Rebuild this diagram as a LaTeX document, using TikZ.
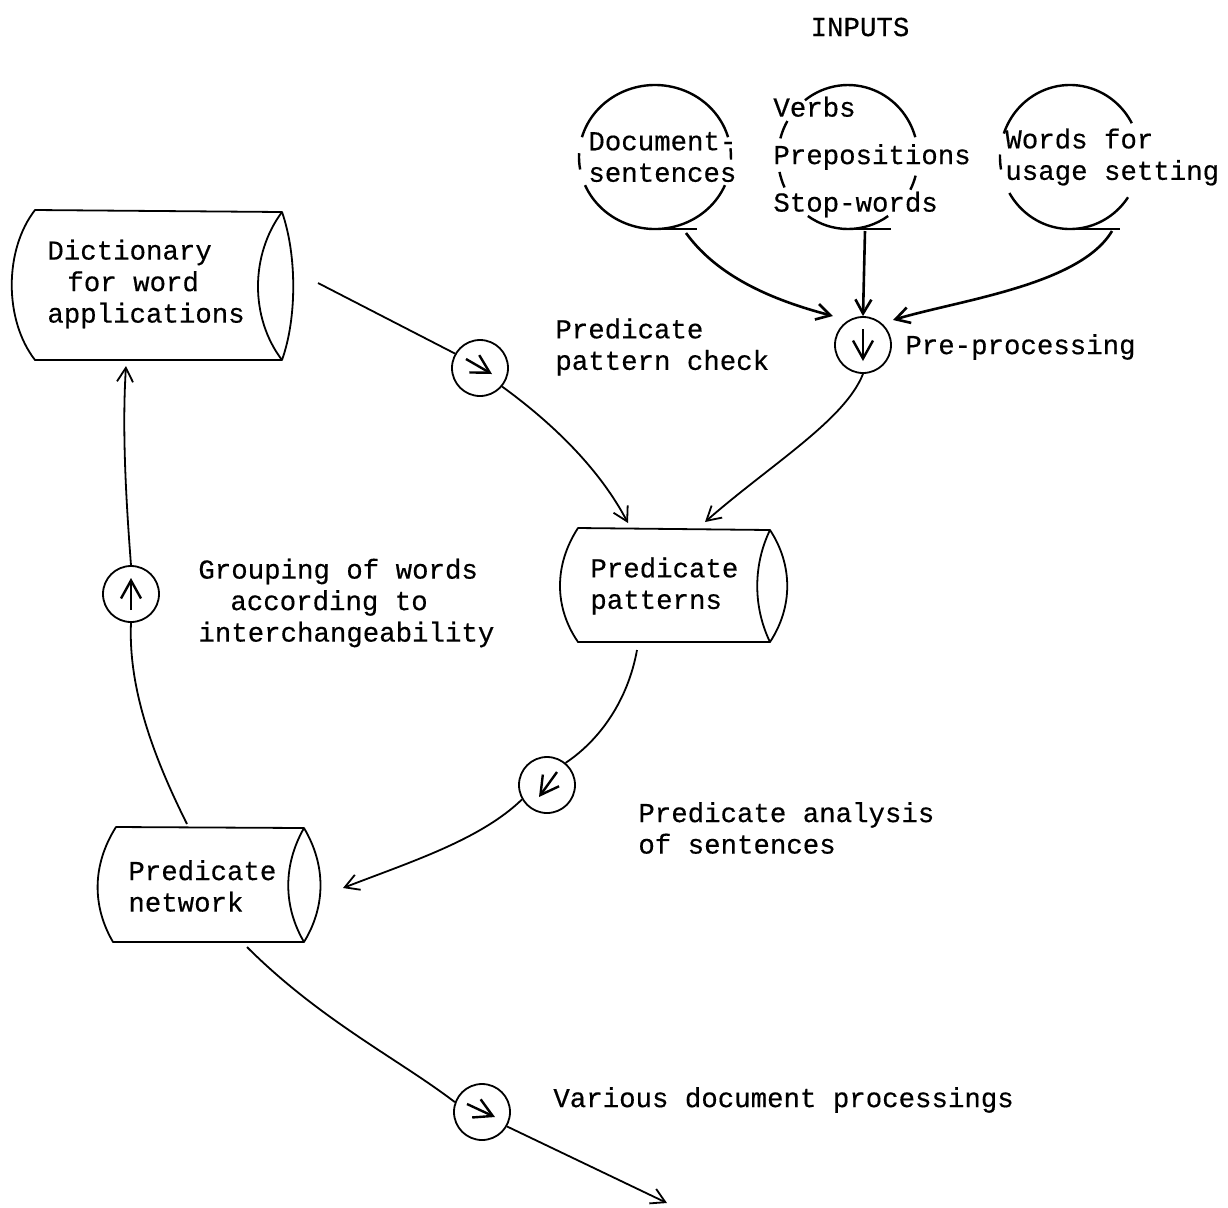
\documentclass[tikz,border=0pt]{standalone}
\usepackage{fontspec}
\setmainfont{Liberation Mono}[FakeBold=0.4]
\usetikzlibrary{arrows.meta,calc}
\begin{document}
\begin{tikzpicture}[x=0.5pt,y=-0.5pt,
  txt/.style={font=\fontsize{13.7}{15.75}\selectfont, inner sep=0pt, align=left, anchor=west},
  cylline/.style={line width=0.9pt, line join=round},
  incirc/.style={line width=1.2pt},
  proc/.style={circle, draw, line width=0.9pt, minimum size=28pt, inner sep=0pt},
  conn/.style={line width=0.9pt},
  bold conn/.style={line width=1.3pt},
  tipped/.style={-{Straight Barb[length=7pt,width=8pt]}},
  inarr/.style={line width=1.2pt, -{Straight Barb[length=9pt,width=10pt]}}
]
\fill[white] (0,0) rectangle (1228,1207);
\useasboundingbox (0,0) rectangle (1228,1207);

% ---------- texts ----------
\node[txt, anchor=center] (inputs) at (860,27) {INPUTS};
\node[txt] (doctext) at (588,157) {Document-\\sentences};
\node[txt, font=\fontsize{13.7}{23.75}\selectfont] (verbs) at (773,157) {Verbs\\Prepositions\\Stop-words};
\node[txt] (words) at (1005,157) {Words for\\usage setting};
\node[txt] (dicttext) at (47,284) {Dictionary\\\hspace*{10pt}for word\\applications};
\node[txt] (pattext) at (590,586) {Predicate\\patterns};
\node[txt] (nettext) at (128,886) {Predicate\\network};
\node[txt] (prelabel) at (905,347) {Pre-processing};
\node[txt] (chklabel) at (555,347) {Predicate\\pattern check};
\node[txt] (grplabel) at (198,603) {Grouping of words\\\hspace*{16pt}according to\\interchangeability};
\node[txt] (analabel) at (638,828) {Predicate analysis\\of sentences};
\node[txt] (varlabel) at (553,1100) {Various document processings};

% ---------- input files (tape symbols) ----------
\coordinate (docC) at (655,157);
\coordinate (midC) at (848,157);
\coordinate (rgtC) at (1070,157);
\draw[incirc] ($(docC)+(196:76 and 72)$) arc[start angle=196,end angle=344,x radius=76,y radius=72];
\draw[incirc] ($(docC)+(23:76 and 72)$) arc[start angle=23,end angle=157,x radius=76,y radius=72];
\draw[incirc] ($(docC)+(170:76 and 72)$) arc[start angle=170,end angle=183,x radius=76,y radius=72];
\draw[incirc] ($(docC)+(353:76 and 72)$) arc[start angle=353,end angle=362,x radius=76,y radius=72];
\draw[incirc] (655,229) -- (697,229);

\draw[incirc] ($(midC)+(232:70 and 72)$) arc[start angle=232,end angle=344,x radius=70,y radius=72];
\draw[incirc] ($(midC)+(195:70 and 72)$) arc[start angle=195,end angle=210,x radius=70,y radius=72];
\draw[incirc] ($(midC)+(155:70 and 72)$) arc[start angle=155,end angle=168,x radius=70,y radius=72];
\draw[incirc] ($(midC)+(15:70 and 72)$) arc[start angle=15,end angle=27,x radius=70,y radius=72];
\draw[incirc] ($(midC)+(55:70 and 72)$) arc[start angle=55,end angle=125,x radius=70,y radius=72];
\draw[incirc] (848,229) -- (891,229);

\draw[incirc] ($(rgtC)+(199:70 and 72)$) arc[start angle=199,end angle=332,x radius=70,y radius=72];
\draw[incirc] ($(rgtC)+(170:70 and 72)$) arc[start angle=170,end angle=182,x radius=70,y radius=72];
\draw[incirc] ($(rgtC)+(34:70 and 72)$) arc[start angle=34,end angle=150,x radius=70,y radius=72];
\draw[incirc] (1070,229) -- (1120,229);

\coordinate (docT) at (686,233);
\coordinate (midT) at (865,231);
\coordinate (rgtT) at (1112,231);

% ---------- storage cylinders ----------
\draw[cylline] (35,210) -- (282,212) .. controls (297,255) and (297,318) .. (282,360)
  -- (35,360) .. controls (4,320) and (4,250) .. (35,210) -- cycle;
\draw[cylline] (282,212) .. controls (250,255) and (250,318) .. (282,360);

\draw[cylline] (578,528) -- (770,530) .. controls (793,565) and (793,607) .. (770,642)
  -- (578,642) .. controls (554,607) and (554,565) .. (578,528) -- cycle;
\draw[cylline] (770,530) .. controls (753,565) and (753,607) .. (770,642);

\draw[cylline] (116,827) -- (304,828) .. controls (326,865) and (326,906) .. (304,942)
  -- (113,942) .. controls (92,906) and (92,865) .. (116,827) -- cycle;
\draw[cylline] (304,828) .. controls (283,865) and (283,906) .. (304,942);

\coordinate (dictR) at (318,283);
\coordinate (dictB) at (126,366);
\coordinate (patT1) at (628,523);
\coordinate (patT2) at (705,522);
\coordinate (patB) at (637,650);
\coordinate (netR) at (343,888);
\coordinate (netT) at (187,824);
\coordinate (netB) at (247,947);
\coordinate (outEnd) at (667,1203);

% ---------- process circles ----------
\node[proc] (pre) at (863,345) {};
\node[proc] (chk) at (480,368) {};
\node[proc] (grp) at (131,594) {};
\node[proc] (ana) at (547,785) {};
\node[proc] (var) at (482,1112) {};

\draw[inarr] ([shift={(0,-16)}]pre.center) -- ([shift={(0,16)}]pre.center);
\draw[inarr] ([shift={(-14,-9)}]chk.center) -- ([shift={(12,6)}]chk.center);
\draw[inarr] ([shift={(0,16)}]grp.center) -- ([shift={(0,-16)}]grp.center);
\draw[inarr] ([shift={(10,-13)}]ana.center) -- ([shift={(-8,12)}]ana.center);
\draw[inarr] ([shift={(-15,-8)}]var.center) -- ([shift={(13,5)}]var.center);

% ---------- connectors ----------
\draw[bold conn, tipped] (docT) .. controls (720,280) and (780,302) .. (833,316);
\draw[bold conn, tipped] (midT) -- (pre.north);
\draw[bold conn, tipped] (rgtT) .. controls (1080,285) and (960,300) .. (893,320);
\draw[conn, tipped] (pre.south) .. controls (845,420) and (770,465) .. (patT2);

\draw[conn] (dictR) -- (chk.150);
\draw[conn, tipped] (chk.-40) .. controls (555,425) and (600,470) .. (patT1);

\draw[conn] (patB) .. controls (628,700) and (600,740) .. (ana.50);
\draw[conn, tipped] (ana.-150) .. controls (480,840) and (410,862) .. (netR);

\draw[conn] (netT) .. controls (155,760) and (128,690) .. (grp.south);
\draw[conn, tipped] (grp.north) .. controls (126,500) and (122,430) .. (dictB);

\draw[conn] (netB) .. controls (320,1020) and (400,1060) .. (var.160);
\draw[conn, tipped] (var.-30) -- (outEnd);
\end{tikzpicture}
\end{document}
